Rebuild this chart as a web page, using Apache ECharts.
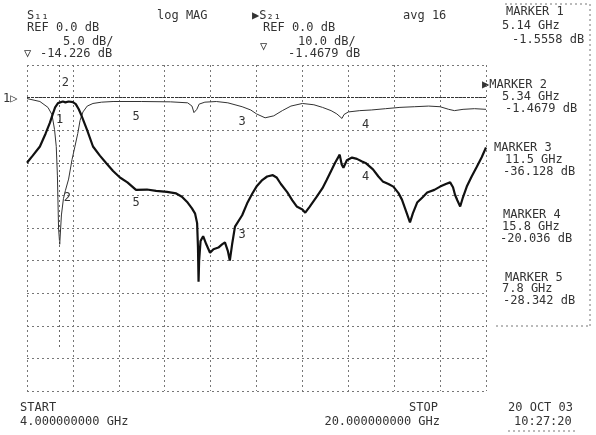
<!DOCTYPE html>
<html><head><meta charset="utf-8">
<script src="https://cdn.jsdelivr.net/npm/echarts@6/dist/echarts.min.js"></script>
<style>html,body{margin:0;padding:0;background:#fff}#c{width:596px;height:435px}</style>
</head><body><div id="c"></div>
<script>
// ---- data (GHz, dB) ----
const s21Freq = [4.0,4.2,4.45,4.65,4.8,4.9,4.98,5.08,5.14,5.25,5.34,5.45,5.6,5.7,5.8,5.9,6.09,6.3,6.54,6.75,7.0,7.24,7.5,7.8,8.18,8.5,8.88,9.2,9.4,9.6,9.75,9.86,9.93,9.96,9.98,10.0,10.05,10.14,10.25,10.38,10.5,10.67,10.8,10.9,11.0,11.07,11.15,11.25,11.5,11.67,11.85,12.0,12.2,12.37,12.57,12.7,12.85,13.07,13.25,13.4,13.6,13.7,13.85,14.1,14.3,14.45,14.6,14.74,14.9,14.97,15.03,15.15,15.33,15.5,15.68,15.8,16.06,16.25,16.4,16.6,16.77,16.95,17.07,17.2,17.35,17.45,17.6,17.8,17.95,18.2,18.4,18.6,18.75,18.85,18.92,19.0,19.1,19.2,19.33,19.5,19.68,19.85,20.0];
const s21Db = [-20,-17.8,-15,-11,-7.7,-5,-3,-1.7,-1.56,-1.2,-1.47,-1.2,-1.4,-2,-3.5,-5.5,-9.8,-15,-17.8,-20,-22.5,-24.5,-26,-28.3,-28.2,-28.6,-28.9,-29.4,-30.4,-32.2,-34,-35.6,-38.5,-46,-56.5,-50,-44,-42.5,-45,-47.6,-46.5,-46,-45,-44.4,-47,-50,-45,-39.6,-36.1,-32.5,-29.5,-27.3,-25.3,-24.2,-23.8,-24.5,-26.5,-29,-31.5,-33.4,-34.3,-35.3,-33.5,-30.4,-27.8,-25.2,-22.5,-20,-17.5,-20.5,-21.5,-19.2,-18.4,-18.8,-19.6,-20.04,-22,-24.2,-25.7,-26.5,-27.3,-29.3,-31.3,-34.5,-38.3,-35.5,-32.2,-30.5,-29.1,-28.3,-27.3,-26.5,-26,-27.5,-29.8,-31.5,-33.4,-30.5,-27.3,-24.2,-21.2,-18.3,-15.3];
const s11Freq = [4.0,4.45,4.73,4.87,4.96,5.02,5.06,5.1,5.14,5.2,5.27,5.34,5.45,5.57,5.67,5.77,5.85,5.95,6.1,6.3,6.6,7.0,8.0,9.0,9.6,9.75,9.82,9.87,9.92,10.0,10.2,10.6,11.0,11.5,11.8,12.0,12.3,12.6,12.9,13.2,13.6,14.0,14.3,14.6,14.8,14.98,15.05,15.2,15.6,16.0,16.5,17.0,17.5,18.0,18.4,18.7,18.9,19.2,19.6,20.0];
const s11Db = [-0.15,-0.6,-1.5,-2.6,-4.9,-7.5,-12,-20,-22.5,-18,-15.5,-14.23,-12.5,-9.5,-7.5,-5.5,-3.5,-2.2,-1.3,-0.9,-0.7,-0.6,-0.6,-0.65,-0.8,-1.3,-2.3,-2.6,-1.8,-1.0,-0.7,-0.6,-0.8,-1.4,-1.9,-2.5,-3.1,-2.8,-2.0,-1.3,-0.9,-1.1,-1.5,-2.0,-2.5,-3.2,-2.6,-2.2,-2.0,-1.9,-1.7,-1.5,-1.4,-1.3,-1.4,-1.8,-2.0,-1.8,-1.7,-1.8];
const markerNums = ['1','2','3','4','5'];
const markerFreq = [5.14, 5.34, 11.5, 15.8, 7.8];
const markerFreqText = ['5.14 GHz','5.34 GHz','11.5 GHz','15.8 GHz','7.8 GHz'];
const markerValText = ['-1.5558 dB','-1.4679 dB','-36.128 dB','-20.036 dB','-28.342 dB'];
const s21MarkerDb = [-1.5558, -1.4679, -36.128, -20.036, -28.342];
const s11MarkerDb = [null, -14.226, -1.4, -2.0, -0.6];
const startText = '4.000000000 GHz';
const stopText = '20.000000000 GHz';

// ---- styling / layout ----
const INK = '#333';
function T(x, y, text, align, size) {
  return {type:'text', x:x, y:y, silent:true,
    style:{text:text, font:(size||12)+'px "DejaVu Sans Mono"', fill:INK, align:align||'left', verticalAlign:'middle'}};
}
function L(x1,y1,x2,y2){
  return {type:'line', silent:true, shape:{x1:x1,y1:y1,x2:x2,y2:y2}, style:{stroke:'#777', lineWidth:1, lineDash:[2,3]}};
}
const graphics = [
  T(27,15.5,'S₁₁'), T(27,28,'REF 0.0 dB'), T(63,41.5,'5.0 dB/'), T(24,53.5,'▽'), T(40,53.5,'-14.226 dB'),
  T(157,16,'log MAG'), T(252,15.5,'▶S₂₁'), T(263,28,'REF 0.0 dB'), T(298,41.5,'10.0 dB/'),
  T(260,47,'▽'), T(288,53.5,'-1.4679 dB'), T(403,16,'avg 16'),
  T(3,99,'1▷'),
  T(20,408,'START'), T(20,422,startText), T(438,408,'STOP','right'), T(440,422,stopText,'right'),
  T(508,408,'20 OCT 03'), T(514,422,'10:27:20'),
  L(505,4,590,4), L(590,4,590,326), L(496,326,590,326), L(508,431,578,431)
];
const mkY = [[12,26,40],[85,97,109],[148,160,172],[215,227,239],[278,289,301]];
const mkX = [[506,502,512],[482,502,505],[494,505,503],[503,502,500],[505,502,503]];
for (let i=0;i<5;i++){
  graphics.push(T(mkX[i][0], mkY[i][0], (i===1?'▶':'')+'MARKER '+markerNums[i]));
  graphics.push(T(mkX[i][1], mkY[i][1], markerFreqText[i]));
  graphics.push(T(mkX[i][2], mkY[i][2], markerValText[i]));
}

const s21Off = [[0,17],[0,-20],[0,19],[0,14],[0,13]];
const s11Off = [null,[2,8],[0,15],[0,14],[0,15]];
function mp(vals, offs){
  const out=[];
  for(let i=0;i<5;i++){
    if(vals[i]===null) continue;
    out.push({coord:[markerFreq[i], vals[i]], value:markerNums[i],
      symbol:'circle', symbolSize:2, itemStyle:{color:'rgba(0,0,0,0)'},
      label:{show:true, position:'inside', formatter:markerNums[i], offset:offs[i], color:INK, fontFamily:'DejaVu Sans Mono', fontSize:12}});
  }
  return out;
}

const chart = echarts.init(document.getElementById('c'), null, {renderer:'canvas'});
const gridLine = {show:true, lineStyle:{color:'#777', width:1, type:[2,3]}};
chart.setOption({
  animation:false,
  backgroundColor:'#fff',
  grid:{left:27, top:65, width:459, height:326, containLabel:false},
  xAxis:[
    {type:'value', min:4, max:20, show:false},
    {type:'value', min:0, max:10, interval:1, position:'bottom',
     axisLine:{show:false}, axisTick:{show:false}, axisLabel:{show:false}, splitLine:gridLine}
  ],
  yAxis:[
    {type:'value', min:-90, max:10, interval:10, axisLine:{show:false}, axisTick:{show:false}, axisLabel:{show:false}, splitLine:gridLine},
    {type:'value', min:-45, max:5, interval:5, show:false, splitLine:{show:false}}
  ],
  graphic:graphics,
  series:[
    {name:'S21', type:'line', xAxisIndex:0, yAxisIndex:0, showSymbol:false, smooth:false,
     data:s21Freq.map((f,i)=>[f,s21Db[i]]),
     lineStyle:{color:'#111', width:2.2}, z:5,
     markLine:{silent:true, symbol:'none', label:{show:false},
       data:[
         {yAxis:0, lineStyle:{color:'#333', type:[3,1], width:1}},
         [{coord:[markerFreq[0],10], lineStyle:{color:'#666', type:[2,3], width:1}},{coord:[markerFreq[0],-77]}]
       ]},
     markPoint:{silent:true, data:mp(s21MarkerDb, s21Off)}
    },
    {name:'S11', type:'line', xAxisIndex:0, yAxisIndex:1, showSymbol:false, smooth:false,
     data:s11Freq.map((f,i)=>[f,s11Db[i]]),
     lineStyle:{color:'#333', width:1}, z:4,
     markPoint:{silent:true, data:mp(s11MarkerDb, s11Off)}
    }
  ]
});
</script></body></html>
